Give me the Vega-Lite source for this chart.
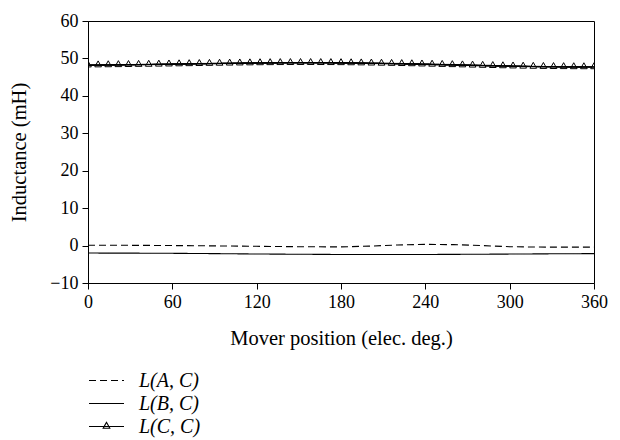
{
  "$schema": "https://vega.github.io/schema/vega-lite/v6.json",
  "autosize": "none",
  "width": 506,
  "height": 262,
  "padding": {"left": 88, "top": 21, "right": 26, "bottom": 157},
  "background": "white",
  "config": {
    "font": "Liberation Serif",
    "view": {"stroke": "black", "strokeWidth": 1},
    "axis": {
      "domainColor": "black", "tickColor": "black", "labelColor": "black", "titleColor": "black",
      "labelFont": "Liberation Serif", "titleFont": "Liberation Serif",
      "labelFontSize": 18, "titleFontSize": 20.5, "titleFontWeight": "normal",
      "tickSize": 6, "grid": false
    }
  },
  "datasets": {
    "curves": [
      {"deg": 0, "L": 0.1, "series": "L(A, C)"},
      {"deg": 20, "L": 0.08, "series": "L(A, C)"},
      {"deg": 40, "L": 0.05, "series": "L(A, C)"},
      {"deg": 60, "L": 0.0, "series": "L(A, C)"},
      {"deg": 80, "L": -0.05, "series": "L(A, C)"},
      {"deg": 100, "L": -0.12, "series": "L(A, C)"},
      {"deg": 120, "L": -0.2, "series": "L(A, C)"},
      {"deg": 140, "L": -0.27, "series": "L(A, C)"},
      {"deg": 160, "L": -0.33, "series": "L(A, C)"},
      {"deg": 180, "L": -0.35, "series": "L(A, C)"},
      {"deg": 200, "L": -0.15, "series": "L(A, C)"},
      {"deg": 220, "L": 0.15, "series": "L(A, C)"},
      {"deg": 240, "L": 0.32, "series": "L(A, C)"},
      {"deg": 260, "L": 0.25, "series": "L(A, C)"},
      {"deg": 280, "L": 0.0, "series": "L(A, C)"},
      {"deg": 300, "L": -0.3, "series": "L(A, C)"},
      {"deg": 320, "L": -0.4, "series": "L(A, C)"},
      {"deg": 340, "L": -0.42, "series": "L(A, C)"},
      {"deg": 360, "L": -0.42, "series": "L(A, C)"},
      {"deg": 0, "L": -2.0, "series": "L(B, C)"},
      {"deg": 30, "L": -2.02, "series": "L(B, C)"},
      {"deg": 60, "L": -2.07, "series": "L(B, C)"},
      {"deg": 90, "L": -2.15, "series": "L(B, C)"},
      {"deg": 120, "L": -2.25, "series": "L(B, C)"},
      {"deg": 150, "L": -2.32, "series": "L(B, C)"},
      {"deg": 180, "L": -2.38, "series": "L(B, C)"},
      {"deg": 210, "L": -2.4, "series": "L(B, C)"},
      {"deg": 240, "L": -2.38, "series": "L(B, C)"},
      {"deg": 270, "L": -2.33, "series": "L(B, C)"},
      {"deg": 300, "L": -2.27, "series": "L(B, C)"},
      {"deg": 330, "L": -2.2, "series": "L(B, C)"},
      {"deg": 360, "L": -2.15, "series": "L(B, C)"},
      {"deg": 0, "L": 48.2, "series": "L(C, C)"},
      {"deg": 7.2, "L": 48.22, "series": "L(C, C)"},
      {"deg": 14.4, "L": 48.25, "series": "L(C, C)"},
      {"deg": 21.6, "L": 48.28, "series": "L(C, C)"},
      {"deg": 28.8, "L": 48.31, "series": "L(C, C)"},
      {"deg": 36, "L": 48.35, "series": "L(C, C)"},
      {"deg": 43.2, "L": 48.38, "series": "L(C, C)"},
      {"deg": 50.4, "L": 48.42, "series": "L(C, C)"},
      {"deg": 57.6, "L": 48.46, "series": "L(C, C)"},
      {"deg": 64.8, "L": 48.5, "series": "L(C, C)"},
      {"deg": 72, "L": 48.54, "series": "L(C, C)"},
      {"deg": 79.2, "L": 48.58, "series": "L(C, C)"},
      {"deg": 86.4, "L": 48.62, "series": "L(C, C)"},
      {"deg": 93.6, "L": 48.66, "series": "L(C, C)"},
      {"deg": 100.8, "L": 48.7, "series": "L(C, C)"},
      {"deg": 108, "L": 48.73, "series": "L(C, C)"},
      {"deg": 115.2, "L": 48.76, "series": "L(C, C)"},
      {"deg": 122.4, "L": 48.79, "series": "L(C, C)"},
      {"deg": 129.6, "L": 48.81, "series": "L(C, C)"},
      {"deg": 136.8, "L": 48.83, "series": "L(C, C)"},
      {"deg": 144, "L": 48.84, "series": "L(C, C)"},
      {"deg": 151.2, "L": 48.85, "series": "L(C, C)"},
      {"deg": 158.4, "L": 48.85, "series": "L(C, C)"},
      {"deg": 165.6, "L": 48.84, "series": "L(C, C)"},
      {"deg": 172.8, "L": 48.83, "series": "L(C, C)"},
      {"deg": 180, "L": 48.81, "series": "L(C, C)"},
      {"deg": 187.2, "L": 48.78, "series": "L(C, C)"},
      {"deg": 194.4, "L": 48.75, "series": "L(C, C)"},
      {"deg": 201.6, "L": 48.71, "series": "L(C, C)"},
      {"deg": 208.8, "L": 48.67, "series": "L(C, C)"},
      {"deg": 216, "L": 48.62, "series": "L(C, C)"},
      {"deg": 223.2, "L": 48.57, "series": "L(C, C)"},
      {"deg": 230.4, "L": 48.52, "series": "L(C, C)"},
      {"deg": 237.6, "L": 48.46, "series": "L(C, C)"},
      {"deg": 244.8, "L": 48.4, "series": "L(C, C)"},
      {"deg": 252, "L": 48.34, "series": "L(C, C)"},
      {"deg": 259.2, "L": 48.28, "series": "L(C, C)"},
      {"deg": 266.4, "L": 48.22, "series": "L(C, C)"},
      {"deg": 273.6, "L": 48.16, "series": "L(C, C)"},
      {"deg": 280.8, "L": 48.1, "series": "L(C, C)"},
      {"deg": 288, "L": 48.04, "series": "L(C, C)"},
      {"deg": 295.2, "L": 47.98, "series": "L(C, C)"},
      {"deg": 302.4, "L": 47.93, "series": "L(C, C)"},
      {"deg": 309.6, "L": 47.88, "series": "L(C, C)"},
      {"deg": 316.8, "L": 47.84, "series": "L(C, C)"},
      {"deg": 324, "L": 47.8, "series": "L(C, C)"},
      {"deg": 331.2, "L": 47.77, "series": "L(C, C)"},
      {"deg": 338.4, "L": 47.75, "series": "L(C, C)"},
      {"deg": 345.6, "L": 47.73, "series": "L(C, C)"},
      {"deg": 352.8, "L": 47.72, "series": "L(C, C)"},
      {"deg": 360, "L": 47.72, "series": "L(C, C)"}
    ]
  },
  "data": {"name": "curves"},
  "encoding": {
    "x": {
      "field": "deg", "type": "quantitative",
      "scale": {"domain": [0, 360], "nice": false, "zero": false},
      "axis": {"values": [0, 60, 120, 180, 240, 300, 360], "title": "Mover position (elec. deg.)", "labelPadding": 4, "titlePadding": 17, "labelFlush": false}
    },
    "y": {
      "field": "L", "type": "quantitative",
      "scale": {"domain": [-10, 60], "nice": false, "zero": false},
      "axis": {"values": [-10, 0, 10, 20, 30, 40, 50, 60], "title": "Inductance (mH)", "labelPadding": 4, "titlePadding": 20, "labelFlush": false}
    }
  },
  "layer": [
    {
      "mark": {"type": "line", "color": "black", "strokeWidth": 1.1},
      "encoding": {
        "strokeDash": {
          "field": "series", "type": "nominal",
          "scale": {"domain": ["L(A, C)", "L(B, C)", "L(C, C)"], "range": [[7, 4], [1, 0], [1, 0]]},
          "legend": {
            "title": null, "orient": "none", "legendX": 0, "legendY": 351,
            "direction": "vertical", "padding": 0, "clipHeight": 17, "rowPadding": 2,
            "symbolSize": 1225, "symbolStrokeWidth": 1.1, "symbolStrokeColor": "black", "symbolFillColor": "transparent",
            "labelFont": "Liberation Serif", "labelFontSize": 20, "labelFontStyle": "italic", "labelColor": "black", "labelOffset": 14
          }
        }
      }
    },
    {
      "transform": [{"filter": "datum.series === 'L(C, C)'"}],
      "mark": {"type": "point", "filled": false, "color": "black", "strokeWidth": 1, "size": 1225, "clip": true, "opacity": 1},
      "encoding": {
        "shape": {
          "field": "series", "type": "nominal",
          "scale": {"domain": ["L(A, C)", "L(B, C)", "L(C, C)"], "range": ["M-1,0H1", "M-1,0H1", "M-1,0H1M-0.19,0.1L0.19,0.1L0,-0.24Z"]},
          "legend": {
            "title": null, "orient": "none", "legendX": 0, "legendY": 351,
            "direction": "vertical", "padding": 0, "clipHeight": 17, "rowPadding": 2,
            "symbolSize": 1225, "symbolStrokeWidth": 1.1, "symbolStrokeColor": "black", "symbolFillColor": "transparent",
            "labelFont": "Liberation Serif", "labelFontSize": 20, "labelFontStyle": "italic", "labelColor": "black", "labelOffset": 14
          }
        }
      }
    }
  ]
}
